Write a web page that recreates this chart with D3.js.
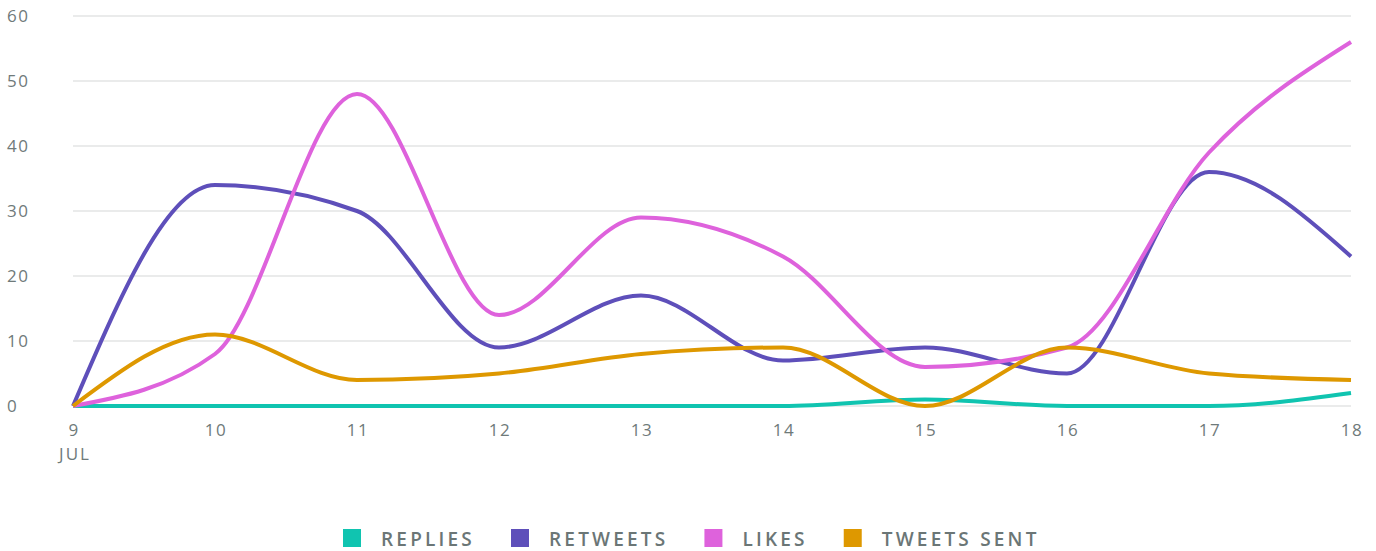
<!DOCTYPE html>
<html>
<head>
<meta charset="utf-8">
<script src="https://cdn.jsdelivr.net/npm/d3@7"></script>
<style>
  body { margin: 0; background: #fff; }
  svg { display: block; font-family: "Open Sans", sans-serif; }
</style>
</head>
<body>
<svg id="chart" width="1376" height="551"></svg>
<script>
// days of July shown on the x axis
const days = [9, 10, 11, 12, 13, 14, 15, 16, 17, 18];
const yTicks = [0, 10, 20, 30, 40, 50, 60];

const replies = [0, 0, 0, 0, 0, 0, 1, 0, 0, 2];
const retweets = [0, 34, 30, 9, 17, 7, 9, 5, 36, 23];
const likes = [0, 8, 48, 14, 29, 23, 6, 9, 39, 56];
const tweetsSent = [0, 11, 4, 5, 8, 9, 0, 9, 5, 4];

const seriesNames = ["REPLIES", "RETWEETS", "LIKES", "TWEETS SENT"];
const seriesColors = ["#10c4b0", "#5e4fba", "#de62dc", "#de9800"];

const series = [replies, retweets, likes, tweetsSent].map((vals, i) => ({
  name: seriesNames[i],
  color: seriesColors[i],
  values: vals.map((v, j) => ({ day: days[j], value: v }))
}));

const svg = d3.select("#chart");

const x = d3.scaleLinear().domain([9, 18]).range([73, 1351]);
const y = d3.scaleLinear().domain([0, 60]).range([406, 16]);

// gridlines
svg.append("g")
  .selectAll("line")
  .data(yTicks)
  .enter()
  .append("line")
  .attr("x1", 73)
  .attr("x2", 1351)
  .attr("y1", d => y(d))
  .attr("y2", d => y(d))
  .attr("stroke", "#e3e5e5")
  .attr("stroke-width", 1.5);

// y labels
svg.append("g")
  .selectAll("text")
  .data(yTicks)
  .enter()
  .append("text")
  .attr("x", 7)
  .attr("y", d => y(d) + 6)
  .attr("fill", "#6f7a7a")
  .style("font-size", "17px")
  .style("letter-spacing", "1.5px")
  .text(d => d);

// x labels
svg.append("g")
  .selectAll("text")
  .data(days)
  .enter()
  .append("text")
  .attr("x", d => x(d) + 1)
  .attr("y", 436)
  .attr("text-anchor", "middle")
  .attr("fill", "#6f7a7a")
  .style("font-size", "17px")
  .style("letter-spacing", "1.5px")
  .text(d => d);

svg.append("text")
  .attr("x", x(9) + 2)
  .attr("y", 460)
  .attr("text-anchor", "middle")
  .attr("fill", "#6f7a7a")
  .style("font-size", "17px")
  .style("letter-spacing", "2px")
  .text("JUL");

// lines
const line = d3.line()
  .x(d => x(d.day))
  .y(d => y(d.value))
  .curve(d3.curveMonotoneX);

svg.append("g")
  .selectAll("path")
  .data(series)
  .enter()
  .append("path")
  .attr("d", d => line(d.values))
  .attr("fill", "none")
  .attr("stroke", d => d.color)
  .attr("stroke-width", 4)
  .attr("stroke-linejoin", "round");

// legend
const legend = svg.append("g");
let lx = 343;
series.forEach(s => {
  legend.append("rect")
    .attr("x", lx)
    .attr("y", 529)
    .attr("width", 18)
    .attr("height", 18)
    .attr("fill", s.color);
  const t = legend.append("text")
    .attr("x", lx + 38)
    .attr("y", 546)
    .attr("fill", "#6b7676")
    .style("font-size", "19px")
    .style("font-weight", 600)
    .style("letter-spacing", "3.2px")
    .text(s.name);
  lx += 38 + t.node().getComputedTextLength() + 36;
});
</script>
</body>
</html>
